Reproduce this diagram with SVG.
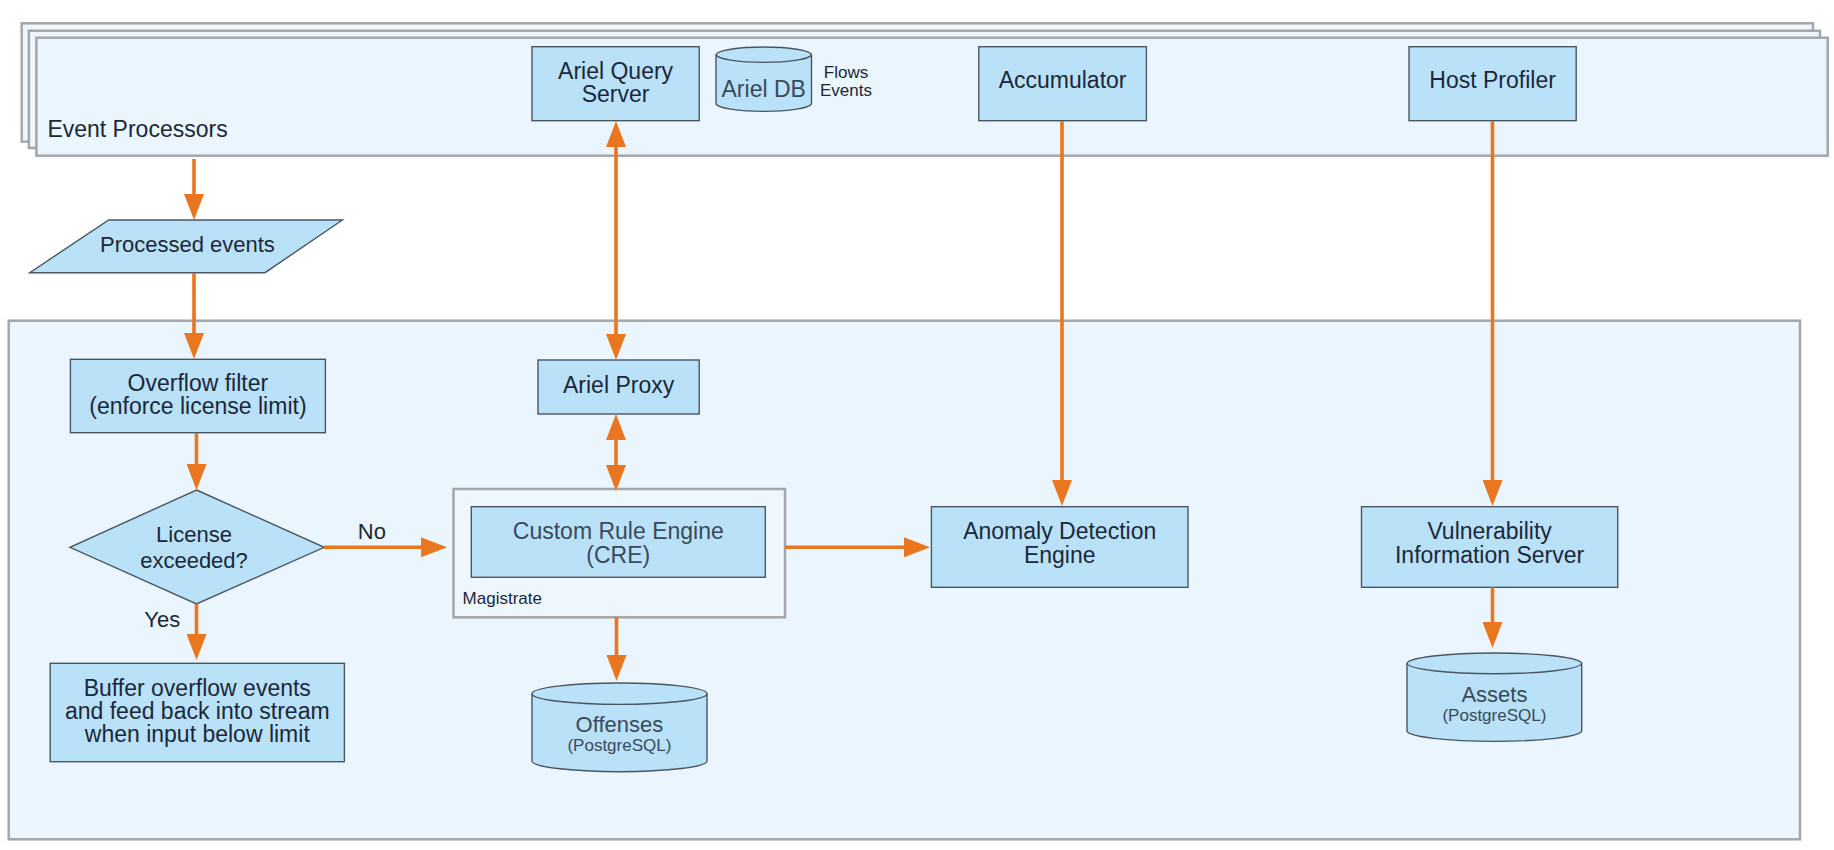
<svg xmlns="http://www.w3.org/2000/svg" width="1834" height="850" viewBox="0 0 1834 850">
<style>
  .bg{fill:#ffffff}
  .stack{fill:#eef6fb;stroke:#a3a7ab;stroke-width:2.5}
  .cont{fill:#eaf5fd;stroke:#a3a7ab;stroke-width:2.5}
  .box{fill:#b9e1f8;stroke:#4b5661;stroke-width:1.4}
  .conn{stroke:#e8771f;stroke-width:3.6;fill:none}
  text{font-family:"Liberation Sans",Arial,sans-serif;fill:#1c2838}
  .t{font-size:23px;text-anchor:middle}
  .g{fill:#3a4a5b}
  .s{font-size:17px}
  .m{text-anchor:middle}
</style>
<defs>
  <marker id="ah" markerUnits="userSpaceOnUse" viewBox="0 0 26 20" markerWidth="26" markerHeight="20" refX="20" refY="10" orient="auto-start-reverse">
    <path d="M0,0 L26,10 L0,20 Z" fill="#e8771f"/>
  </marker>
</defs>
<rect class="bg" x="0" y="0" width="1834" height="850"/>

<g id="event-processors">
  <rect class="stack" x="21.7" y="23.3" width="1791.3" height="118.4"/>
  <rect class="stack" x="28.9" y="30.7" width="1791.1" height="117.3"/>
  <rect class="cont" x="36.4" y="37.7" width="1791.3" height="118"/>
  <text x="47.4" y="136.7" style="font-size:23px" fill="#2b3340">Event Processors</text>
</g>

<g id="magistrate-host">
  <rect class="cont" x="8.7" y="320.7" width="1791.3" height="518.6"/>
</g>

<g id="ariel-query-server">
  <rect class="box" x="532" y="46.7" width="167.2" height="74"/>
  <text class="t" x="615.6" y="79">Ariel Query<tspan x="615.6" y="102.4">Server</tspan></text>
</g>

<g id="ariel-db">
  <path class="box" d="M716,54.7 A47.8,8 0 0 1 811.5,54.7 L811.5,103.7 A47.8,8 0 0 1 716,103.7 Z"/>
  <path class="box" style="fill:none" d="M716,54.7 A47.8,8 0 0 0 811.5,54.7"/>
  <text class="t g" x="763.7" y="96.7">Ariel DB</text>
  <text class="s m" x="846" y="78.3">Flows<tspan x="846" y="95.7">Events</tspan></text>
</g>

<g id="accumulator">
  <rect class="box" x="978.8" y="46.7" width="167.6" height="74"/>
  <text class="t" x="1062.6" y="88.3">Accumulator</text>
</g>

<g id="host-profiler">
  <rect class="box" x="1409" y="46.7" width="167.2" height="74"/>
  <text class="t" x="1492.6" y="88.3">Host Profiler</text>
</g>

<g id="processed-events">
  <polygon class="box" points="108.7,220 342.4,220 265,272.7 29.7,272.7"/>
  <text class="m" x="187.4" y="252" style="font-size:22px" fill="#2f3e4e">Processed events</text>
</g>

<g id="overflow-filter">
  <rect class="box" x="70.4" y="359.3" width="255" height="73.4"/>
  <text class="t" x="197.9" y="390.7">Overflow filter<tspan x="197.9" y="414.1">(enforce license limit)</tspan></text>
</g>

<g id="license-exceeded">
  <polygon class="box" points="196.5,490 324.2,547.3 196.5,604 70,547.3"/>
  <text class="m" x="194" y="542.3" style="font-size:22px">License<tspan x="194" y="567.7">exceeded?</tspan></text>
</g>

<g id="buffer-overflow">
  <rect class="box" x="50.2" y="663.3" width="294.2" height="98.4"/>
  <text class="t" x="197.3" y="696">Buffer overflow events<tspan x="197.3" y="719.3">and feed back into stream</tspan><tspan x="197.3" y="742.2">when input below limit</tspan></text>
</g>

<g id="ariel-proxy">
  <rect class="box" x="538" y="360" width="161.2" height="54"/>
  <text class="t" x="618.6" y="393.3">Ariel Proxy</text>
</g>

<g id="magistrate">
  <rect class="cont" style="fill:#eef7fd" x="453.5" y="489" width="331.5" height="128.3"/>
  <text class="s" x="462.6" y="604" fill="#2b3340">Magistrate</text>
</g>

<g id="cre">
  <rect class="box" x="471.3" y="506.7" width="294" height="70.6"/>
  <text class="t g" x="618.3" y="539.3">Custom Rule Engine<tspan x="618.3" y="563.3">(CRE)</tspan></text>
</g>

<g id="offenses">
  <path class="box" d="M532,693.7 A87.5,10.7 0 0 1 707,693.7 L707,761 A87.5,10.7 0 0 1 532,761 Z"/>
  <path class="box" style="fill:none" d="M532,693.7 A87.5,10.7 0 0 0 707,693.7"/>
  <text class="m g" x="619.4" y="731.7" style="font-size:22px">Offenses<tspan x="619.4" y="750.7" style="font-size:17px">(PostgreSQL)</tspan></text>
</g>

<g id="anomaly-detection">
  <rect class="box" x="931.4" y="506.7" width="256.6" height="80.6"/>
  <text class="t" x="1059.7" y="539.3">Anomaly Detection<tspan x="1059.7" y="562.7">Engine</tspan></text>
</g>

<g id="vulnerability-server">
  <rect class="box" x="1361.5" y="506.7" width="256.2" height="80.6"/>
  <text class="t" x="1489.6" y="539.3">Vulnerability<tspan x="1489.6" y="562.7">Information Server</tspan></text>
</g>

<g id="assets">
  <path class="box" d="M1407,663.4 A87.4,10.7 0 0 1 1581.7,663.4 L1581.7,731 A87.4,10.7 0 0 1 1407,731 Z"/>
  <path class="box" style="fill:none" d="M1407,663.4 A87.4,10.7 0 0 0 1581.7,663.4"/>
  <text class="m g" x="1494.4" y="701.7" style="font-size:22px">Assets<tspan x="1494.4" y="720.7" style="font-size:17px">(PostgreSQL)</tspan></text>
</g>

<g id="connectors">
  <line class="conn" x1="194" y1="159" x2="194" y2="214" marker-end="url(#ah)"/>
  <line class="conn" x1="194" y1="273" x2="194" y2="353" marker-end="url(#ah)"/>
  <line class="conn" x1="196.5" y1="433" x2="196.5" y2="484" marker-end="url(#ah)"/>
  <line class="conn" x1="196.5" y1="604" x2="196.5" y2="654" marker-end="url(#ah)"/>
  <line class="conn" x1="324" y1="547.3" x2="441" y2="547.3" marker-end="url(#ah)"/>
  <line class="conn" x1="616" y1="127" x2="616" y2="354" marker-start="url(#ah)" marker-end="url(#ah)"/>
  <line class="conn" x1="616" y1="420" x2="616" y2="485" marker-start="url(#ah)" marker-end="url(#ah)"/>
  <line class="conn" x1="616.5" y1="617" x2="616.5" y2="675" marker-end="url(#ah)"/>
  <line class="conn" x1="785" y1="547.3" x2="924" y2="547.3" marker-end="url(#ah)"/>
  <line class="conn" x1="1062" y1="121" x2="1062" y2="500" marker-end="url(#ah)"/>
  <line class="conn" x1="1492.5" y1="121" x2="1492.5" y2="500" marker-end="url(#ah)"/>
  <line class="conn" x1="1492.5" y1="587.3" x2="1492.5" y2="642" marker-end="url(#ah)"/>
  <text x="357.8" y="539.3" style="font-size:22px">No</text>
  <text x="144.3" y="626.7" style="font-size:22px">Yes</text>
</g>
</svg>
